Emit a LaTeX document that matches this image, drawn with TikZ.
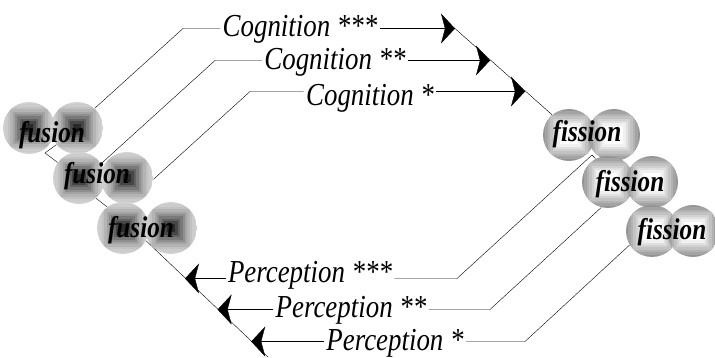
\documentclass[tikz,border=0pt]{standalone}
\usepackage{fontspec}
\setmainfont{Liberation Serif}[FakeStretch=0.84]
\usetikzlibrary{arrows.meta,backgrounds}

\begin{document}
\begin{tikzpicture}[x=1pt, y=-1pt, line width=0.9pt,
  >={Stealth[length=14pt, width=30pt, inset=4pt]},
  kugel/.style={circle, minimum size=52pt, inner sep=0pt},
  fusionkugel/.style={kugel, path picture={
    \foreach \k in {0,...,9} {
      \pgfmathsetmacro{\s}{26-2.4*\k}
      \pgfmathsetmacro{\c}{18+66*(\k/9)^1.6}
      \fill[black!\c] ([shift={(-\s pt,-\s pt)}]path picture bounding box.center)
        rectangle ([shift={(\s pt,\s pt)}]path picture bounding box.center);
    }}},
  fissionkugel/.style={kugel, path picture={
    \foreach \k in {0,...,9} {
      \pgfmathsetmacro{\s}{26-2.4*\k}
      \pgfmathsetmacro{\c}{max(0,42-6*\k)}
      \fill[black!\c] ([shift={(-\s pt,-\s pt)}]path picture bounding box.center)
        rectangle ([shift={(\s pt,\s pt)}]path picture bounding box.center);
    }}},
  wort/.style={anchor=base, inner sep=0pt, font=\fontsize{30}{32}\selectfont\bfseries\itshape},
  beschrift/.style={anchor=base, inner xsep=2pt, inner ysep=0pt, font=\fontsize{32}{34}\selectfont\itshape}
]
\useasboundingbox (0,0) rectangle (715,358);
% Kugelpaare links (fusion)
\node[fusionkugel] (fu1a) at (29,128) {};
\node[fusionkugel] (fu1b) at (77,128) {};
\node[fusionkugel] (fu2a) at (79,178) {};
\node[fusionkugel] (fu2b) at (127,178) {};
\node[fusionkugel] (fu3a) at (123,228) {};
\node[fusionkugel] (fu3b) at (171,228) {};
% Kugelpaare rechts (fission)
\node[fissionkugel] (fi1a) at (569,135) {};
\node[fissionkugel] (fi1b) at (614,135) {};
\node[fissionkugel] (fi2a) at (608,182) {};
\node[fissionkugel] (fi2b) at (652,182) {};
\node[fissionkugel] (fi3a) at (652,231) {};
\node[fissionkugel] (fi3b) at (693,231) {};
% Woerter auf den Kugeln
\node[wort] (lfu1) at (52,143) {fusion};
\node[wort] (lfu2) at (97,184) {fusion};
\node[wort] (lfu3) at (141,237) {fusion};
\node[wort] (lfi1) at (587,142) {fission};
\node[wort] (lfi2) at (630,192) {fission};
\node[wort] (lfi3) at (672,240) {fission};
% Beschriftungen
\node[beschrift] (cog3) at (300,37) {Cognition ***};
\node[beschrift] (cog2) at (335,70) {Cognition **};
\node[beschrift] (cog1) at (370,106) {Cognition *};
\node[beschrift] (per3) at (310,283) {Perception ***};
\node[beschrift] (per2) at (351,317) {Perception **};
\node[beschrift] (per1) at (395,350) {Perception *};
% Knicke und Pfeilspitzen
\coordinate (v1)  at (45,153);
\coordinate (v2)  at (592,155);
\coordinate (lend) at (268,357);
\coordinate (kc3) at (183,28.5);
\coordinate (kc2) at (215,60.5);
\coordinate (kc1) at (250,91.5);
\coordinate (tc3) at (455,28.5);
\coordinate (tc2) at (490,60.5);
\coordinate (tc1) at (525,91.5);
\coordinate (kp3) at (457,278.5);
\coordinate (kp2) at (490,309.5);
\coordinate (kp1) at (525,341.5);
\coordinate (tp3) at (185,278.5);
\coordinate (tp2) at (217.6,309.5);
\coordinate (tp1) at (251.2,341.5);
\begin{scope}[on background layer]
% Kette links
\draw (fu1b.219) -- (v1) -- (fu2a.144);
\draw (fu2a.-50) -- (fu3a.127);
\draw (fu3a.-29) -- (lend);
% Kette rechts
\draw (tc3) -- (fi1a.130);
\draw (v2) -- (fi2a.118);
% Cognition
\draw (fu1b.48) -- (kc3) -- (kc3 -| cog3.west);
\draw[->] (kc3 -| cog3.east) -- (tc3);
\draw (fu2a.33) -- (kc2) -- (kc2 -| cog2.west);
\draw[->] (kc2 -| cog2.east) -- (tc2);
\draw (fu2b.-3) -- (kc1) -- (kc1 -| cog1.west);
\draw[->] (kc1 -| cog1.east) -- (tc1);
% Perception
\draw (v2) -- (kp3) -- (kp3 -| per3.east);
\draw[->] (kp3 -| per3.west) -- (tp3);
\draw (fi2a.-105) -- (kp2) -- (kp2 -| per2.east);
\draw[->] (kp2 -| per2.west) -- (tp2);
\draw (fi3a.212) -- (kp1) -- (kp1 -| per1.east);
\draw[->] (kp1 -| per1.west) -- (tp1);
\end{scope}
\end{tikzpicture}
\end{document}
